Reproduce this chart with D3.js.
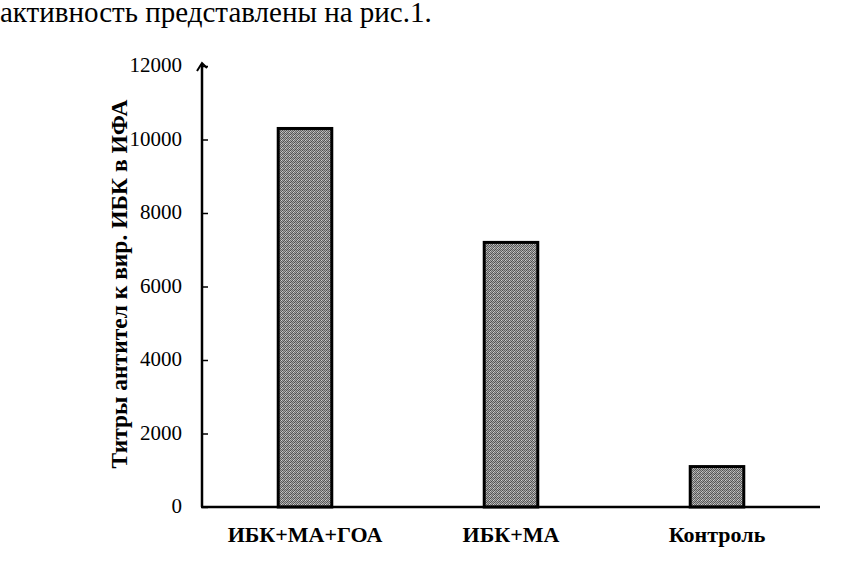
<!DOCTYPE html>
<html>
<head>
<meta charset="utf-8">
<script src="https://cdn.jsdelivr.net/npm/d3@7"></script>
<style>
body{margin:0;background:#fff;}
svg{display:block;}
</style>
</head>
<body>
<svg id="chart" width="843" height="566"></svg>
<script>
// данные с рисунка
let groups=["ИБК+МА+ГОА", "ИБК+МА", "Контроль"];
let titers=[10300, 7200, 1100];
let yTicks=[0, 2000, 4000, 6000, 8000, 10000, 12000];
let caption="активность представлены на рис.1.";
let yTitle="Титры антител к вир. ИБК в ИФА";

let svg=d3.select("#chart");
let serif="Liberation Serif";

// мелкая серая штриховка столбцов
let defs=svg.append("defs");
let pat=defs.append("pattern")
    .attr("id", "hatch")
    .attr("width", 4).attr("height", 4)
    .attr("patternUnits", "userSpaceOnUse");
pat.append("rect").attr("width", 4).attr("height", 4).attr("fill", "#a8a8a8");
[[0,0,"#555"],[2,0,"#6a6a6a"],[1,1,"#5e5e5e"],[3,1,"#4e4e4e"],[0,2,"#646464"],[2,2,"#505050"],[1,3,"#5a5a5a"],[3,3,"#6e6e6e"],[1,0,"#cfcfcf"],[2,3,"#c4c4c4"]]
    .forEach(p=>pat.append("rect").attr("x", p[0]).attr("y", p[1]).attr("width", 1).attr("height", 1).attr("fill", p[2]));

// текст сверху
svg.append("text")
    .attr("x", 0).attr("y", 22)
    .attr("font-family", serif).attr("font-size", 29)
    .text(caption);

let x=d3.scaleBand().domain(groups).range([202, 820]).paddingInner(0.74).paddingOuter(0.37);
let y=d3.scaleLinear().domain([0, 12000]).range([507, 66]);

// столбцы
svg.selectAll(".bar")
    .data(groups)
    .enter()
    .append("rect")
    .attr("class", "bar")
    .attr("x", d=>x(d))
    .attr("width", x.bandwidth())
    .attr("y", (d, i)=>y(titers[i]))
    .attr("height", (d, i)=>y(0)-y(titers[i]))
    .attr("fill", "url(#hatch)")
    .attr("stroke", "#000")
    .attr("stroke-width", 3);

// ось Y
let yAxis=svg.append("g")
    .attr("transform", "translate(202,0)")
    .call(d3.axisRight(y).tickValues(yTicks).tickSize(6).tickFormat(""));
yAxis.select(".domain").remove();
yAxis.selectAll("line").attr("stroke", "#000").attr("stroke-width", 1.5);
svg.append("line")
    .attr("x1", 202).attr("x2", 202)
    .attr("y1", y(0)).attr("y2", 64)
    .attr("stroke", "#000").attr("stroke-width", 2.5);
svg.append("path")
    .attr("d", "M197,71 L202,63 L207,68")
    .attr("fill", "none").attr("stroke", "#000").attr("stroke-width", 2);

svg.selectAll(".ylab")
    .data(yTicks)
    .enter()
    .append("text")
    .attr("class", "ylab")
    .attr("x", 182)
    .attr("y", d=>y(d)-1)
    .attr("dy", "0.35em")
    .attr("text-anchor", "end")
    .attr("font-family", serif).attr("font-size", 21)
    .text(d=>d);

// ось X
let xAxis=svg.append("g")
    .attr("transform", "translate(0,507)")
    .call(d3.axisBottom(x).tickSize(0));
xAxis.select(".domain").attr("stroke", "#000").attr("stroke-width", 2.5)
    .attr("d", "M201,0H820");
xAxis.attr("font-family", null).attr("font-size", null);
xAxis.selectAll("text")
    .attr("dy", 0).attr("y", 35)
    .attr("font-family", serif).attr("font-size", 22)
    .attr("font-weight", "bold").attr("fill", "#000");

// подпись оси Y
svg.append("text")
    .attr("transform", "translate(127,284) rotate(-90)")
    .attr("text-anchor", "middle")
    .attr("font-family", serif).attr("font-size", 23.5)
    .attr("font-weight", "bold")
    .text(yTitle);
</script>
</body>
</html>
